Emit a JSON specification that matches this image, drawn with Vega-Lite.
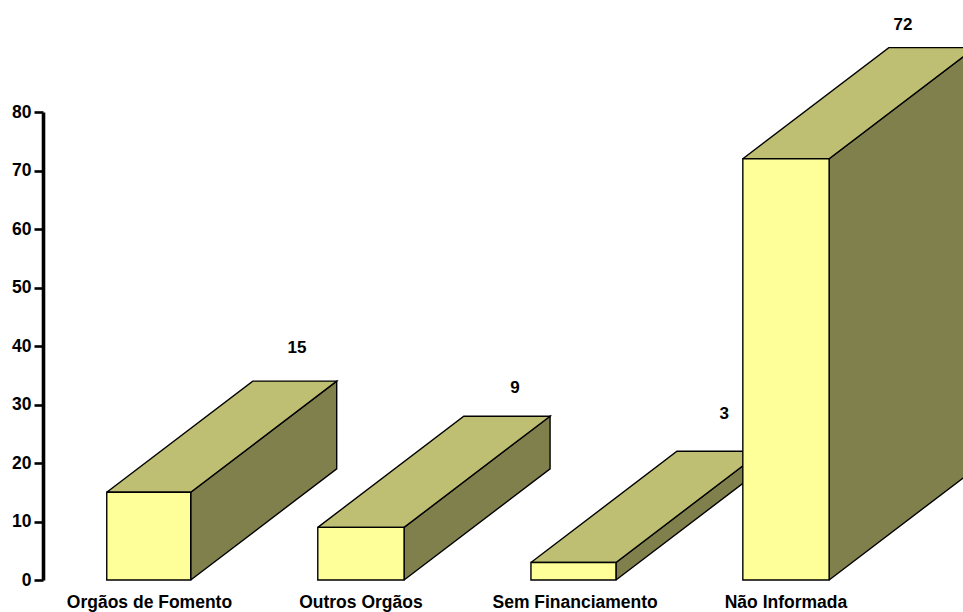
{
  "$schema": "https://vega.github.io/schema/vega-lite/v6.json",
  "width": 920,
  "height": 468,
  "padding": {"left": 43, "top": 112, "right": 0, "bottom": 32},
  "autosize": "none",
  "background": "white",
  "view": {"stroke": null},
  "config": {"font": "Liberation Sans"},
  "datasets": {
    "bars": [
      {"fonte": "Orgãos de Fomento", "valor": 15, "esq": 0.300, "dir": 0.695, "centro": 0.501, "rotX": 1.195, "rotY": 39.7},
      {"fonte": "Outros Orgãos", "valor": 9, "esq": 1.293, "dir": 1.699, "centro": 1.496, "rotX": 2.221, "rotY": 32.9},
      {"fonte": "Sem Financiamento", "valor": 3, "esq": 2.296, "dir": 2.696, "centro": 2.504, "rotX": 3.205, "rotY": 28.3},
      {"fonte": "Não Informada", "valor": 72, "esq": 3.293, "dir": 3.699, "centro": 3.496, "rotX": 4.047, "rotY": 94.9}
    ],
    "lados": [
      {"fonte": "Orgãos de Fomento", "v": 1, "x": 0.695, "y": 0},
      {"fonte": "Orgãos de Fomento", "v": 2, "x": 1.382, "y": 19},
      {"fonte": "Orgãos de Fomento", "v": 3, "x": 1.382, "y": 34},
      {"fonte": "Orgãos de Fomento", "v": 4, "x": 0.695, "y": 15},
      {"fonte": "Orgãos de Fomento", "v": 5, "x": 0.695, "y": 0},
      {"fonte": "Outros Orgãos", "v": 1, "x": 1.699, "y": 0},
      {"fonte": "Outros Orgãos", "v": 2, "x": 2.386, "y": 19},
      {"fonte": "Outros Orgãos", "v": 3, "x": 2.386, "y": 28},
      {"fonte": "Outros Orgãos", "v": 4, "x": 1.699, "y": 9},
      {"fonte": "Outros Orgãos", "v": 5, "x": 1.699, "y": 0},
      {"fonte": "Sem Financiamento", "v": 1, "x": 2.696, "y": 0},
      {"fonte": "Sem Financiamento", "v": 2, "x": 3.383, "y": 19},
      {"fonte": "Sem Financiamento", "v": 3, "x": 3.383, "y": 22},
      {"fonte": "Sem Financiamento", "v": 4, "x": 2.696, "y": 3},
      {"fonte": "Sem Financiamento", "v": 5, "x": 2.696, "y": 0},
      {"fonte": "Não Informada", "v": 1, "x": 3.699, "y": 0},
      {"fonte": "Não Informada", "v": 2, "x": 4.386, "y": 19},
      {"fonte": "Não Informada", "v": 3, "x": 4.386, "y": 91},
      {"fonte": "Não Informada", "v": 4, "x": 3.699, "y": 72},
      {"fonte": "Não Informada", "v": 5, "x": 3.699, "y": 0}
    ],
    "topos": [
      {"fonte": "Orgãos de Fomento", "v": 1, "x": 0.300, "y": 15},
      {"fonte": "Orgãos de Fomento", "v": 2, "x": 0.695, "y": 15},
      {"fonte": "Orgãos de Fomento", "v": 3, "x": 1.382, "y": 34},
      {"fonte": "Orgãos de Fomento", "v": 4, "x": 0.987, "y": 34},
      {"fonte": "Orgãos de Fomento", "v": 5, "x": 0.300, "y": 15},
      {"fonte": "Outros Orgãos", "v": 1, "x": 1.293, "y": 9},
      {"fonte": "Outros Orgãos", "v": 2, "x": 1.699, "y": 9},
      {"fonte": "Outros Orgãos", "v": 3, "x": 2.386, "y": 28},
      {"fonte": "Outros Orgãos", "v": 4, "x": 1.980, "y": 28},
      {"fonte": "Outros Orgãos", "v": 5, "x": 1.293, "y": 9},
      {"fonte": "Sem Financiamento", "v": 1, "x": 2.296, "y": 3},
      {"fonte": "Sem Financiamento", "v": 2, "x": 2.696, "y": 3},
      {"fonte": "Sem Financiamento", "v": 3, "x": 3.383, "y": 22},
      {"fonte": "Sem Financiamento", "v": 4, "x": 2.983, "y": 22},
      {"fonte": "Sem Financiamento", "v": 5, "x": 2.296, "y": 3},
      {"fonte": "Não Informada", "v": 1, "x": 3.293, "y": 72},
      {"fonte": "Não Informada", "v": 2, "x": 3.699, "y": 72},
      {"fonte": "Não Informada", "v": 3, "x": 4.386, "y": 91},
      {"fonte": "Não Informada", "v": 4, "x": 3.980, "y": 91},
      {"fonte": "Não Informada", "v": 5, "x": 3.293, "y": 72}
    ]
  },
  "layer": [
    {
      "data": {"name": "lados"},
      "mark": {"type": "line", "fill": "#80804D", "stroke": "#000000", "strokeWidth": 1.4, "clip": false},
      "encoding": {
        "x": {"field": "x", "type": "quantitative", "scale": {"domain": [0, 4.329], "nice": false, "zero": false}, "axis": null},
        "y": {
          "field": "y",
          "type": "quantitative",
          "scale": {"domain": [0, 80], "nice": false},
          "axis": {
            "title": null,
            "values": [0, 10, 20, 30, 40, 50, 60, 70, 80],
            "grid": false,
            "domainColor": "#000000",
            "domainWidth": 3.6,
            "tickColor": "#000000",
            "tickWidth": 2.6,
            "tickSize": 9,
            "labelFontSize": 17.5,
            "labelFontWeight": "bold",
            "labelColor": "#000000",
            "labelPadding": 3,
            "labelFont": "Liberation Sans"
          }
        },
        "detail": {"field": "fonte"},
        "order": {"field": "v"}
      }
    },
    {
      "data": {"name": "topos"},
      "mark": {"type": "line", "fill": "#BFBF73", "stroke": "#000000", "strokeWidth": 1.4, "clip": false},
      "encoding": {
        "x": {"field": "x", "type": "quantitative"},
        "y": {"field": "y", "type": "quantitative"},
        "detail": {"field": "fonte"},
        "order": {"field": "v"}
      }
    },
    {
      "data": {"name": "bars"},
      "mark": {"type": "rect", "fill": "#FFFF99", "stroke": "#000000", "strokeWidth": 1.4},
      "encoding": {
        "x": {"field": "esq", "type": "quantitative"},
        "x2": {"field": "dir"},
        "y": {"field": "valor", "type": "quantitative"},
        "y2": {"datum": 0}
      }
    },
    {
      "data": {"name": "bars"},
      "mark": {"type": "text", "font": "Liberation Sans", "fontWeight": "bold", "fontSize": 17, "color": "#000000", "baseline": "middle"},
      "encoding": {
        "x": {"field": "rotX", "type": "quantitative"},
        "y": {"field": "rotY", "type": "quantitative"},
        "text": {"field": "valor", "type": "quantitative"}
      }
    },
    {
      "data": {"name": "bars"},
      "mark": {"type": "text", "font": "Liberation Sans", "fontWeight": "bold", "fontSize": 17.5, "color": "#000000", "baseline": "middle", "dy": 22.5},
      "encoding": {
        "x": {"field": "centro", "type": "quantitative"},
        "y": {"datum": 0},
        "text": {"field": "fonte", "type": "nominal"}
      }
    }
  ]
}
